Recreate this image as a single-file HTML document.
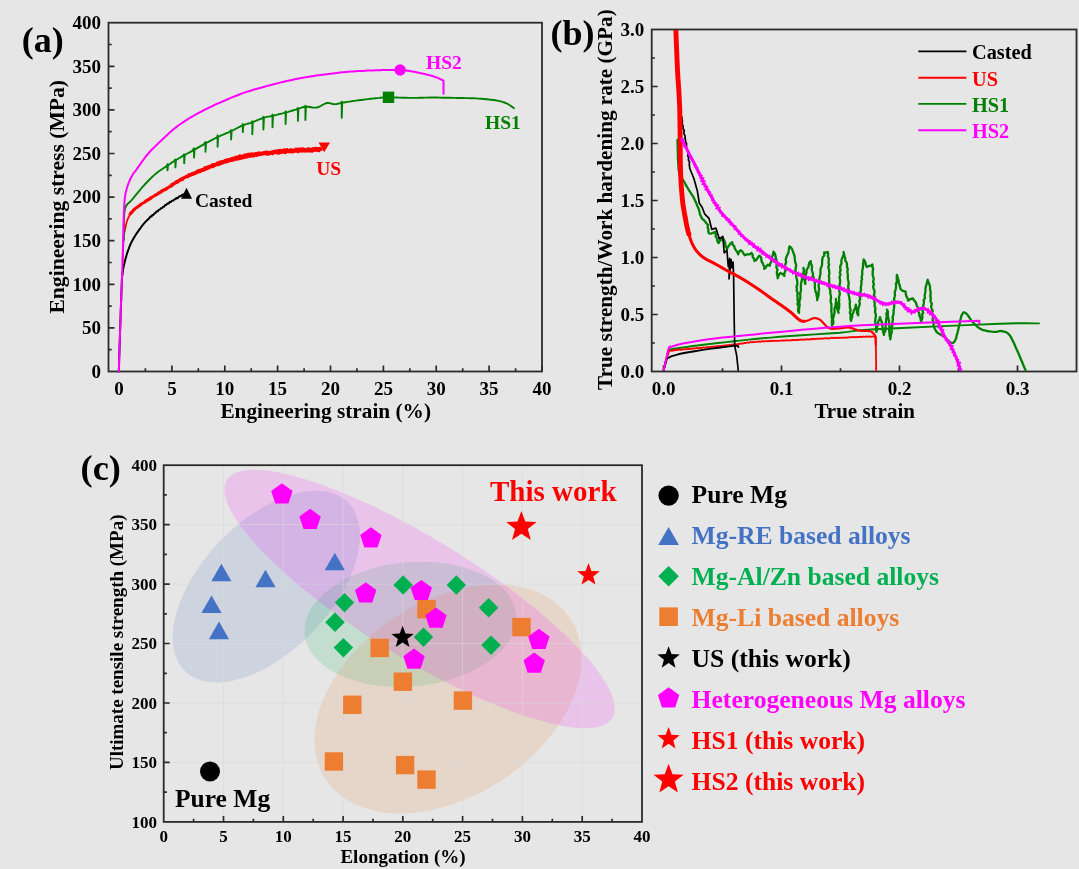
<!DOCTYPE html>
<html><head><meta charset="utf-8"><style>
html,body{margin:0;padding:0;background:#e6e6e6;width:1079px;height:869px;overflow:hidden}
svg{display:block;font-family:"Liberation Serif",serif;will-change:transform}
</style></head><body>
<svg width="1079" height="869" viewBox="0 0 1079 869" font-family="Liberation Serif" font-weight="bold">
<rect width="1079" height="869" fill="#e6e6e6"/>
<rect x="108.5" y="22.7" width="433.5" height="348.8" fill="none" stroke="#2b2b2b" stroke-width="1.8"/>
<path d="M108.5,349.7 h3.2 M108.5,327.9 h6 M108.5,306.1 h3.2 M108.5,284.3 h6 M108.5,262.5 h3.2 M108.5,240.7 h6 M108.5,218.9 h3.2 M108.5,197.1 h6 M108.5,175.3 h3.2 M108.5,153.5 h6 M108.5,131.7 h3.2 M108.5,109.9 h6 M108.5,88.1 h3.2 M108.5,66.3 h6 M108.5,44.5 h3.2 M119,371.5 v-6 M145.4,371.5 v-3.2 M171.9,371.5 v-6 M198.3,371.5 v-3.2 M224.8,371.5 v-6 M251.2,371.5 v-3.2 M277.6,371.5 v-6 M304.1,371.5 v-3.2 M330.5,371.5 v-6 M356.9,371.5 v-3.2 M383.4,371.5 v-6 M409.8,371.5 v-3.2 M436.2,371.5 v-6 M462.7,371.5 v-3.2 M489.1,371.5 v-6 M515.6,371.5 v-3.2 M542,371.5 v-6 " stroke="#2b2b2b" stroke-width="1.7" fill="none"/>
<text x="101" y="377.8" font-size="19" text-anchor="end" fill="#000" >0</text>
<text x="101" y="334.2" font-size="19" text-anchor="end" fill="#000" >50</text>
<text x="101" y="290.6" font-size="19" text-anchor="end" fill="#000" >100</text>
<text x="101" y="247" font-size="19" text-anchor="end" fill="#000" >150</text>
<text x="101" y="203.4" font-size="19" text-anchor="end" fill="#000" >200</text>
<text x="101" y="159.8" font-size="19" text-anchor="end" fill="#000" >250</text>
<text x="101" y="116.2" font-size="19" text-anchor="end" fill="#000" >300</text>
<text x="101" y="72.6" font-size="19" text-anchor="end" fill="#000" >350</text>
<text x="101" y="29" font-size="19" text-anchor="end" fill="#000" >400</text>
<text x="119" y="394.6" font-size="19" text-anchor="middle" fill="#000" >0</text>
<text x="171.9" y="394.6" font-size="19" text-anchor="middle" fill="#000" >5</text>
<text x="224.8" y="394.6" font-size="19" text-anchor="middle" fill="#000" >10</text>
<text x="277.6" y="394.6" font-size="19" text-anchor="middle" fill="#000" >15</text>
<text x="330.5" y="394.6" font-size="19" text-anchor="middle" fill="#000" >20</text>
<text x="383.4" y="394.6" font-size="19" text-anchor="middle" fill="#000" >25</text>
<text x="436.2" y="394.6" font-size="19" text-anchor="middle" fill="#000" >30</text>
<text x="489.1" y="394.6" font-size="19" text-anchor="middle" fill="#000" >35</text>
<text x="542" y="394.6" font-size="19" text-anchor="middle" fill="#000" >40</text>
<text x="325.7" y="417.9" font-size="21.3" text-anchor="middle" fill="#000" >Engineering strain (%)</text>
<text transform="translate(63.5,196.8) rotate(-90)" font-size="21.6" text-anchor="middle">Engineering stress (MPa)</text>
<text x="21.8" y="52" font-size="36" text-anchor="start" fill="#000" >(a)</text>
<g fill="none" stroke-linejoin="round" stroke-linecap="round">
<path d="M118.8,371.5 L118.9,369.8 L118.9,368.1 L119,366.5 L119,364.9 L119.1,363.3 L119.1,361.9 L119.1,360.5 L119.2,359 L119.2,357.6 L119.3,356.1 L119.3,354.6 L119.4,353.1 L119.4,351.6 L119.5,350 L119.5,348.5 L119.6,347 L119.6,345.5 L119.7,344.1 L119.7,342.8 L119.8,341.4 L119.8,340 L119.9,338.3 L119.9,336.6 L120,334.9 L120,333.2 L120.1,331.5 L120.1,329.8 L120.2,328.1 L120.2,326.4 L120.3,324.7 L120.4,323.1 L120.4,321.4 L120.5,319.7 L120.5,318.1 L120.6,316.4 L120.6,314.8 L120.7,313.2 L120.7,311.6 L120.8,310 L120.9,308.4 L120.9,306.7 L121,305.1 L121,303.4 L121.1,301.7 L121.2,300.1 L121.2,298.4 L121.3,296.7 L121.3,295.1 L121.4,293.5 L121.4,292 L121.5,290.4 L121.6,289.1 L121.6,287.7 L121.7,286.3 L121.7,284.7 L121.8,283 L121.8,281.8 L121.9,280.7 L121.9,279.3 L122,278.4 L122,277.7 L122.1,276.9 L122.3,275.6 L122.5,273.8 L122.8,271.9 L123,269.9 L123.4,267.7 L123.6,266.5 L123.9,265.3 L124.2,264 L124.5,262.7 L124.9,261.3 L125.3,259.8 L125.7,258.3 L126.1,256.7 L126.6,255 L127.1,253.3 L127.7,251.7 L128.2,250 L128.9,248.3 L129.5,246.6 L130.2,245 L130.9,243.4 L131.7,241.8 L132.5,240.3 L133.4,238.7 L134.3,237.1 L135.3,235.6 L136.2,234.1 L137.2,232.6 L138.3,231.1 L139.3,229.7 L140.3,228.3 L141.2,227 L142.2,225.7 L143.1,224.6 L144.1,223.4 L145,222.4 L145.9,221.4 L146.8,220.5 L147.8,219.5 L148.7,218.7 L149.6,217.8 L150.3,216.6 L151.7,216.4 L152.3,215 L153.8,214.7 L154.4,213.4 L155.7,212.9 L156.3,211.4 L157.9,211.3 L158.6,209.9 L159.9,209.5 L160.8,208.3 L162.3,208 L163.1,206.8 L164.4,206.5 L165.1,205.1 L166.5,204.8 L167.3,203.6 L168.8,203.5 L169.5,202.1 L171,202 L171.8,200.7 L173.4,200.6 L174.2,199.5 L175.5,199.1 L176.2,198 L177.7,198.2 L179.1,196.5 L180.9,196.1 L182,194.8 L183.5,194.8 L184.4,193.9 L185.4,194 L186,193.5" stroke="#000" stroke-width="2.0"/>
<path d="M122.6,262 L122.7,258.9 L122.9,254.4 L123.1,249.2 L123.3,244 L123.5,239.4 L123.7,236 L123.8,234.2 L123.9,233.4 L124,233.2 L124.1,233.2 L124.2,233 L124.5,232.1 L124.9,230.4 L125.3,228.3 L125.7,226 L126.3,223.6 L126.9,221.3 L127.7,219.2 L128.5,217.4 L129.3,215.8 L130.1,214.3 L131.2,212.8 L132.5,211.3 L134.2,209.6 L136.3,207.8 L138.9,205.9 L141.7,204 L144.6,202 L147.5,200.1 L150.3,198.3 L153,196.6 L155.7,195 L158.4,193.4 L161,191.8 L163.7,190.2 L166.4,188.6 L169,187 L171.4,185.3 L173.8,183.7 L176.4,182 L179.2,180.3 L182.5,178.6 L186.3,176.7 L190.7,174.8 L195.3,172.8 L199.9,170.8 L204.4,169 L208.6,167.3 L212.4,165.8 L215.9,164.5 L219.3,163.2 L222.6,162.1 L225.9,161 L229.3,160 L232.8,159 L236.2,158.2 L239.7,157.4 L243.1,156.6 L246.6,155.9 L250,155.3 L253.4,154.7 L256.9,154.2 L260.3,153.8 L263.8,153.4 L267.2,153 L270.7,152.6 L274.2,152.2 L277.6,151.9 L281.1,151.6 L284.6,151.3 L288,151 L291.5,150.8 L295.1,150.6 L298.8,150.4 L302.6,150.2 L306.2,150.1 L309.4,149.9 L312.2,149.8 L314.5,149.7 L316.3,149.6 L317.9,149.6 L319.2,149.6 L320.2,149.5 L321,149.5" stroke="#ff0000" stroke-width="1.8"/>
<path d="M190.7,174.8 L195.3,172.8 L199.9,170.8 L204.4,169 L208.6,167.3 L212.4,165.8 L215.9,164.5 L219.3,163.2 L222.6,162.1 L225.9,161 L229.3,160 L232.8,159 L236.2,158.2 L239.7,157.4 L243.1,156.6 L246.6,155.9 L250,155.3 L253.4,154.7 L256.9,154.2 L260.3,153.8 L263.8,153.4 L267.2,153 L270.7,152.6 L274.2,152.2 L277.6,151.9 L281.1,151.6 L284.6,151.3 L288,151 L291.5,150.8 L295.1,150.6 L298.8,150.4 L302.6,150.2 L306.2,150.1 L309.4,149.9 L312.2,149.8 L314.5,149.7 L316.3,149.6 L317.9,149.6 L319.2,149.6 L320.2,149.5 L321,149.5" stroke="#ff0000" stroke-width="3.2"/>
<path d="M129.8,214.1 L130.8,214 L130.5,213.1 L131.6,213.1 L131.3,212 L132.4,212.1 L132.4,211.1 L133.3,210.9 L133.3,209.8 L134.4,209.9 L134.4,208.8 L135.4,208.8 L135.6,208 L136.5,208 L136.6,207.1 L137.5,207.3 L137.8,206.5 L138.5,206.5 L138.7,205.7 L139.7,205.9 L139.7,204.8 L140.6,204.9 L140.8,204 L141.8,204.1 L142,203.3 L142.9,203.3 L143.3,202.7 L144.2,202.8 L144.5,201.8 L145.3,201.8 L145.5,200.8 L146.6,201.3 L146.8,200.3 L147.8,200.5 L147.9,199.4 L148.9,199.7 L149,198.8 L150,199.1 L150.1,197.9 L151.1,198.4 L151.1,197.2 L152.1,197.5 L152.3,196.7 L153.1,196.8 L153.5,196 L154.4,196 L154.8,195.1 L155.9,195.3 L156.2,194.4 L157.3,194.6 L157.5,193.5 L158.5,193.7 L158.7,192.5 L159.9,193 L160.2,191.9 L161.3,192.2 L161.4,190.9 L162.5,191.2 L162.7,190 L163.8,190.4 L164.1,189.3 L165.4,190 L165.6,188.8 L166.7,189.1 L166.8,187.8 L168,188.2 L168.2,187.2 L169.1,187.2 L169.4,186.3 L170.6,186.8 L170.6,185.5 L171.8,185.9 L171.6,184.3 L173.1,185.2 L173,183.7 L174.1,184.1 L174.2,182.8 L175.5,183.5 L175.6,182.2 L176.8,182.7 L176.6,181.1 L177.9,182.1 L178,180.8 L179.1,181.4 L179.1,180.1 L180.1,180.4 L180.2,179.1 L181.6,180.1 L181.6,178.5 L182.9,179.4 L182.9,177.7 L184,178.4 L184.2,177.2 L185.2,177.7 L185.5,176.7 L186.5,177.1 L186.6,175.8 L188,177.1 L188,175.5 L188.9,175.9 L189,174.4 L190.3,175.7 L190.4,174.2 L191.5,174.9 L191.7,173.5 L193,174.8 L193,173 L194.2,173.9 L194.5,172.7 L195.7,173.7 L195.8,172.2 L196.9,172.9 L196.9,171 L198.1,172.1 L198.2,170.5 L199.7,172.1 L199.6,170 L201,171.5 L201.1,169.9 L202.1,170.7 L202.3,169.3 L203.6,170.5 L203.6,168.7 L204.7,169.7 L204.7,167.6 L206.2,169.4 L206.1,167 L207.5,168.6 L207.6,166.8 L209,168.3 L208.9,166.3 L210.1,167.4 L210.2,165.9 L211.3,166.8 L211.5,165.4 L212.8,167 L212.6,164.4 L214.1,166.2 L214.2,164.2 L215.4,165.4 L215.7,164 L216.8,164.9 L216.9,162.9 L218.4,164.9 L218.3,162.8 L219.7,164.4 L219.6,161.9 L221,163.8 L220.9,161.5 L222.3,163.4 L222.4,161.3 L223.6,163 L223.7,161 L224.9,162.3 L224.9,160.1 L226.2,162.1 L226.4,160.1 L227.7,162 L227.6,159.3 L228.9,161.2 L229.2,159.6 L230.3,160.8 L230.5,158.9 L231.7,160.6 L231.8,158.3 L233.1,160.4 L233.2,157.7 L234.5,160 L234.6,157.7 L235.8,159.5 L235.9,156.9 L237.2,159.4 L237.4,157 L238.6,159.1 L238.6,156.1 L239.9,158.6 L240,155.6 L241.4,158.6 L241.5,155.8 L242.6,157.9 L243,155.9 L244.1,157.9 L244.2,154.8 L245.4,157.3 L245.6,154.7 L246.8,157.4 L247,154.4 L248.1,156.4 L248.3,154.1 L249.5,156.7 L249.8,153.9 L250.9,156.2 L251.2,153.8 L252.3,156.4 L252.5,153.5 L253.7,156.2 L254.1,154.1 L254.9,155.3 L255.4,153.3 L256.4,155.7 L256.8,153.4 L257.8,155.5 L258.1,152.7 L259,154.5 L259.5,152.7 L260.4,154.6 L261,153.1 L261.8,154.3 L262.3,152.6 L263.2,154.2 L263.7,152.6 L264.5,153.9 L265,152.1 L266,154.1 L266.4,151.7 L267.4,154.3 L267.8,152.1 L268.8,154.5 L269.3,152.2 L270.1,153.7 L270.6,151.7 L271.5,153.6 L272,151.8 L272.9,154 L273.4,151.3 L274.2,152.8 L274.7,150.9 L275.6,152.8 L276.1,150.8 L277,152.9 L277.5,150.6 L278.5,153.6 L278.9,150.2 L279.8,152.8 L280.3,150.1 L281.2,152.9 L281.7,150.5 L282.5,152.2 L283.1,150.1 L284,152.6 L284.4,149.6 L285.4,153 L285.9,149.9 L286.7,152.1 L287.2,149.4 L288.1,151.6 L288.7,150.3 L289.5,152.2 L290,149.6 L290.9,151.6 L291.4,149.5 L292.3,152.4 L292.9,149.7 L293.7,151.7 L294.3,149.8 L295.1,151.5 L295.8,148.8 L296.6,151.5 L297.3,148.7 L298.2,152.1 L298.8,149.1 L299.6,151.2 L300.3,148.5 L301.2,151.4 L301.8,149.2 L302.6,151.1 L303.2,148.4 L304.1,151.3 L304.7,149.2 L305.5,151.2 L306.2,149.4 L306.9,151.3 L307.4,148.9 L308.2,150.9 L308.7,148.4 L309.5,151.5 L310.1,149.3 L310.9,151.1 L311.5,148.9 L312.3,151.5 L312.9,148.2 L313.7,150.6 L314.4,148.8 L315.1,150.4 L315.6,147.9 L316.4,150.5 L317.1,148.3 L317.9,150.7 L318.5,148.2 L319.2,150.9 L320.1,148 L321,149.5" stroke="#ff0000" stroke-width="2.6"/>
<path d="M123.9,240 L123.9,237.5 L123.9,234.1 L123.9,230 L123.9,225.5 L123.9,221 L124.1,216.7 L124.4,212.8 L124.8,209.8 L125.4,207.6 L126.1,205.9 L127,204.6 L127.9,203.6 L128.9,202.7 L130,201.8 L131.1,200.7 L132.3,199.4 L133.5,197.8 L134.9,196.1 L136.3,194.4 L137.8,192.6 L139.3,190.8 L140.8,189 L142.3,187.2 L143.8,185.6 L145.2,184 L146.7,182.5 L148.1,181 L149.6,179.5 L151,178.1 L152.4,176.7 L153.9,175.4 L155.3,174.1 L156.8,172.9 L158.2,171.8 L159.7,170.7 L161.2,169.7 L162.7,168.7 L164.1,167.8 L165.5,166.9 L166.8,166 L167.5,164.2 L167.5,170.2 L168,165.5 L167.9,165.2 L168.9,164.6 L169.8,164 L170.6,163.4 L171.5,162.8 L172.6,162.1 L173.8,161.3 L175.4,159.4 L175.4,167.4 L175.9,160.7 L175.4,160.4 L177.3,159.3 L179.4,158 L181.8,156.7 L184.2,154.3 L184.2,163.3 L184.7,155.6 L184.3,155.3 L186.9,153.8 L189.6,152.3 L192.3,150.8 L194,148.3 L194,157.6 L194.5,149.6 L194.9,149.3 L197.6,147.8 L200.5,146.2 L203.4,144.6 L205.5,142 L205.5,151.8 L206,143.3 L206.3,143 L209.3,141.4 L212.1,139.9 L214.7,138.5 L217.1,137.3 L217.6,135.3 L217.6,146.8 L218.1,136.6 L219.3,136.3 L221.2,135.3 L223.1,134.6 L224.8,133.8 L226.4,133.2 L228,132.6 L229.5,131.9 L231.1,130.2 L231.1,139.5 L231.6,131.5 L231.1,131.2 L232.6,130.5 L234.1,129.7 L235.5,129 L236.9,128.2 L238.2,127.5 L239.6,126.8 L240.9,126.2 L242.2,125.6 L242.8,124.1 L242.8,132.1 L243.3,125.4 L243.5,125.1 L244.8,124.6 L246,124.2 L247.2,123.9 L248.5,123.5 L249.7,123.2 L251,122.8 L252.3,121.3 L252.3,134.3 L252.8,122.6 L252.3,122.3 L253.6,121.8 L255,121.2 L256.4,120.6 L257.9,120 L259.3,119.4 L260.7,118.8 L262.1,118.3 L263.4,116.8 L263.4,129.5 L263.9,118.1 L263.4,117.8 L264.7,117.4 L265.9,117.1 L267.1,116.9 L268.3,116.6 L269.5,116.4 L270.7,116.2 L272,115.9 L272.5,114.6 L272.5,127.3 L273,115.9 L273.4,115.6 L274.9,115.2 L276.5,114.9 L278.2,114.4 L280,114 L281.7,113.6 L283.4,113.2 L285.1,112.7 L285.6,111.3 L285.6,124 L286.1,112.6 L286.7,112.3 L288.2,111.9 L289.7,111.4 L291.2,111 L292.6,110.5 L294,110.1 L295.4,109.7 L296.7,109.3 L297.9,107.9 L297.9,120.9 L298.4,109.2 L297.9,108.9 L299,108.5 L300,108.2 L300.9,107.9 L301.8,107.5 L302.7,107.3 L303.6,107 L304.6,106.8 L305.4,105.7 L305.4,120 L305.9,107 L305.7,106.7 L306.9,106.7 L308.3,106.8 L309.7,107 L311.1,107.2 L312.6,107.5 L314,107.6 L315.4,107.6 L316.8,107.5 L318.1,107.2 L319.4,106.6 L320.7,106 L322,105.2 L323.3,104.5 L324.5,103.8 L325.7,103.3 L326.8,103 L327.9,102.9 L328.9,103 L329.8,103.2 L330.8,103.4 L331.7,103.7 L332.6,104 L333.6,104.1 L334.6,104.2 L335.6,104.1 L336.6,104 L337.5,103.8 L338.5,103.6 L339.6,103.3 L340.7,103 L341.7,101.8 L341.7,117.8 L342.2,103.1 L342.1,102.8 L343.6,102.5 L345.4,102.2 L347.3,101.9 L349.5,101.6 L351.7,101.3 L354,100.9 L356.4,100.6 L358.7,100.3 L361,100 L363.3,99.7 L365.7,99.4 L368.2,99.1 L370.7,98.8 L373.1,98.6 L375.3,98.3 L377.4,98.1 L379.3,97.9 L380.8,97.7 L381.9,97.6 L382.8,97.5 L383.6,97.4 L384.4,97.4 L385.4,97.3 L386.7,97.3 L388.5,97.3 L390.8,97.3 L393.4,97.4 L396.4,97.5 L399.6,97.6 L402.8,97.7 L406,97.8 L409.1,97.9 L412,97.9 L414.7,97.9 L417.3,97.9 L419.8,97.8 L422.3,97.7 L424.8,97.6 L427.3,97.6 L429.8,97.5 L432.3,97.5 L434.8,97.5 L437.4,97.5 L439.9,97.6 L442.5,97.7 L445,97.7 L447.6,97.8 L450.1,97.8 L452.7,97.9 L455.2,97.9 L457.8,98 L460.3,98 L462.9,98 L465.4,98.1 L468,98.1 L470.5,98.2 L473.1,98.3 L475.7,98.4 L478.4,98.6 L481.1,98.8 L483.8,99 L486.5,99.2 L489,99.5 L491.3,99.7 L493.5,100 L495.4,100.3 L497.2,100.6 L498.9,100.9 L500.4,101.3 L501.8,101.7 L503.1,102.1 L504.4,102.5 L505.7,103 L507,103.6 L508.2,104.2 L509.4,105 L510.6,105.7 L511.6,106.5 L512.5,107.1 L513.3,107.7 L513.9,108.1" stroke="#008000" stroke-width="1.9"/>
<path d="M118.8,371.5 L118.9,369.1 L119,365.8 L119.1,361.9 L119.2,357.6 L119.4,353.1 L119.5,348.5 L119.7,344.1 L119.8,340 L119.9,336.2 L120,332.3 L120.2,328.5 L120.3,324.7 L120.4,321 L120.5,317.3 L120.7,313.6 L120.8,310 L120.9,306.6 L121,303.3 L121.2,300.1 L121.3,297 L121.4,293.8 L121.5,290.5 L121.7,286.9 L121.8,283 L121.9,278.7 L122.1,274 L122.3,269 L122.4,263.9 L122.6,258.8 L122.7,253.8 L122.9,249.2 L123,245 L123.1,241.2 L123.2,237.8 L123.2,234.5 L123.3,231.5 L123.4,228.6 L123.4,225.7 L123.5,222.9 L123.6,220 L123.7,217.1 L123.8,214.1 L123.9,211.2 L124.1,208.4 L124.2,205.6 L124.4,203 L124.6,200.6 L124.8,198.3 L125.1,196.3 L125.4,194.4 L125.7,192.8 L126,191.2 L126.4,189.8 L126.8,188.4 L127.2,187 L127.7,185.6 L128.2,184.2 L128.7,182.8 L129.3,181.4 L129.9,180 L130.5,178.7 L131.1,177.5 L131.7,176.4 L132.3,175.3 L132.8,174.4 L133.2,173.7 L133.6,173.2 L134,172.7 L134.5,172.1 L135,171.5 L135.7,170.6 L136.5,169.5 L137.5,168.1 L138.7,166.4 L140,164.6 L141.3,162.6 L142.8,160.6 L144.2,158.6 L145.6,156.7 L147,155 L148.3,153.5 L149.5,152.1 L150.7,150.8 L151.9,149.5 L153.2,148.3 L154.6,146.9 L156.1,145.4 L157.8,143.8 L159.7,141.9 L161.9,139.9 L164.2,137.7 L166.6,135.5 L169,133.3 L171.5,131.1 L173.9,129 L176.3,127.1 L178.6,125.3 L180.9,123.7 L183.3,122.1 L185.6,120.6 L187.9,119.1 L190.3,117.7 L192.6,116.4 L194.9,115 L197.3,113.6 L199.8,112.3 L202.4,111 L204.9,109.7 L207.3,108.5 L209.6,107.4 L211.7,106.4 L213.4,105.5 L214.7,104.9 L215.5,104.5 L216.1,104.2 L216.5,104 L216.9,103.9 L217.5,103.6 L218.5,103.2 L220,102.6 L222,101.7 L224.5,100.7 L227.2,99.5 L230.1,98.2 L233.2,96.9 L236.3,95.7 L239.3,94.5 L242.2,93.4 L245,92.4 L247.8,91.5 L250.6,90.7 L253.3,89.8 L256.1,89 L258.9,88.2 L261.7,87.5 L264.5,86.7 L267.3,85.9 L270.1,85.2 L272.8,84.5 L275.6,83.8 L278.4,83.1 L281.1,82.4 L283.9,81.7 L286.7,81.1 L289.4,80.5 L292.1,79.9 L294.7,79.3 L297.3,78.8 L300,78.3 L302.8,77.8 L305.8,77.2 L309,76.7 L312.5,76.2 L316.4,75.6 L320.5,75 L324.6,74.5 L328.8,73.9 L332.8,73.4 L336.6,73 L340,72.6 L343,72.3 L345.8,72 L348.3,71.8 L350.7,71.6 L353,71.4 L355.3,71.3 L357.6,71.1 L360,71 L362.6,70.9 L365.2,70.7 L367.9,70.6 L370.5,70.5 L373.1,70.4 L375.6,70.3 L377.9,70.3 L380,70.2 L381.9,70.1 L383.5,70.1 L385.1,70 L386.5,70 L387.8,70 L389,69.9 L390.3,69.9 L391.5,69.9 L392.7,69.9 L393.8,69.9 L394.8,69.9 L395.8,69.8 L396.8,69.8 L397.8,69.9 L398.9,69.9 L400.1,70 L401.4,70.1 L402.6,70.2 L403.9,70.3 L405.3,70.4 L406.7,70.6 L408.3,70.8 L410,71.1 L411.9,71.4 L414.1,71.8 L416.6,72.3 L419.3,72.9 L422.1,73.5 L424.9,74.1 L427.6,74.8 L430.1,75.4 L432.3,76 L434.2,76.6 L436,77.3 L437.7,77.9 L439.2,78.6 L440.5,79.2 L441.7,79.8 L442.7,80.2 L443.5,80.6 L443.5,93.8" stroke="#ff00ff" stroke-width="2.0"/>
</g>
<path d="M186.5,187.8 L192,198.8 L181,198.8 Z" fill="#000"/>
<path d="M318.5,142.6 L330,142.6 L324.2,152.3 Z" fill="#ff0000"/>
<rect x="382.8" y="91.6" width="11.4" height="11.4" fill="#008000"/>
<circle cx="400.1" cy="70" r="5.7" fill="#ff00ff"/>
<text x="195" y="206.8" font-size="19.5" text-anchor="start" fill="#000" >Casted</text>
<text x="316.2" y="175.4" font-size="19.5" text-anchor="start" fill="#ff0000" >US</text>
<text x="485" y="128.5" font-size="19.5" text-anchor="start" fill="#008000" >HS1</text>
<text x="426" y="68.8" font-size="19.5" text-anchor="start" fill="#ff00ff" >HS2</text>
<rect x="651.7" y="29.5" width="424.8" height="342" fill="none" stroke="#2b2b2b" stroke-width="1.8"/>
<path d="M651.7,343 h3.2 M651.7,314.5 h6 M651.7,286 h3.2 M651.7,257.5 h6 M651.7,229 h3.2 M651.7,200.5 h6 M651.7,172 h3.2 M651.7,143.5 h6 M651.7,115 h3.2 M651.7,86.5 h6 M651.7,58 h3.2 M663.5,371.5 v-6 M722.5,371.5 v-3.2 M781.5,371.5 v-6 M840.5,371.5 v-3.2 M899.5,371.5 v-6 M958.5,371.5 v-3.2 M1017.5,371.5 v-6 " stroke="#2b2b2b" stroke-width="1.7" fill="none"/>
<text x="644.3" y="377.8" font-size="19" text-anchor="end" fill="#000" >0.0</text>
<text x="644.3" y="320.8" font-size="19" text-anchor="end" fill="#000" >0.5</text>
<text x="644.3" y="263.8" font-size="19" text-anchor="end" fill="#000" >1.0</text>
<text x="644.3" y="206.8" font-size="19" text-anchor="end" fill="#000" >1.5</text>
<text x="644.3" y="149.8" font-size="19" text-anchor="end" fill="#000" >2.0</text>
<text x="644.3" y="92.8" font-size="19" text-anchor="end" fill="#000" >2.5</text>
<text x="644.3" y="35.8" font-size="19" text-anchor="end" fill="#000" >3.0</text>
<text x="663.5" y="394.6" font-size="19" text-anchor="middle" fill="#000" >0.0</text>
<text x="781.5" y="394.6" font-size="19" text-anchor="middle" fill="#000" >0.1</text>
<text x="899.5" y="394.6" font-size="19" text-anchor="middle" fill="#000" >0.2</text>
<text x="1017.5" y="394.6" font-size="19" text-anchor="middle" fill="#000" >0.3</text>
<text x="864.7" y="418.4" font-size="21" text-anchor="middle" fill="#000" >True strain</text>
<text transform="translate(611.6,199.6) rotate(-90)" font-size="21.2" text-anchor="middle">True strength/Work hardening rate (GPa)</text>
<text x="550.5" y="45" font-size="36" text-anchor="start" fill="#000" >(b)</text>
<path d="M918.3,51.4 H966.4" stroke="#000" stroke-width="1.9"/>
<text x="972" y="59.2" font-size="20.3" text-anchor="start" fill="#000" >Casted</text>
<path d="M918.3,77.7 H966.4" stroke="#ff0000" stroke-width="1.9"/>
<text x="972" y="85.5" font-size="20.3" text-anchor="start" fill="#ff0000" >US</text>
<path d="M918.3,103.9 H966.4" stroke="#008000" stroke-width="1.9"/>
<text x="972" y="111.7" font-size="20.3" text-anchor="start" fill="#008000" >HS1</text>
<path d="M918.3,130.3 H966.4" stroke="#ff00ff" stroke-width="1.9"/>
<text x="972" y="138.1" font-size="20.3" text-anchor="start" fill="#ff00ff" >HS2</text>
<defs><clipPath id="clipb"><rect x="652.5" y="30.3" width="423.2" height="340.4"/></clipPath></defs>
<g fill="none" stroke-linejoin="round" stroke-linecap="round" clip-path="url(#clipb)">
<path d="M677.5,140 L677.5,142 L677.5,143.9 L677.7,145.9 L677.7,148 L677.7,150.2 L677.9,152.3 L677.8,154.5 L677.9,156.7 L677.9,158.9 L678.2,161.1 L678.2,163.3 L678.4,165.6 L678.5,167.8 L678.7,170.1 L679.2,172.1 L679.5,174.2 L680.7,176.8 L682,178.5 L682.8,179.7 L684,181.6 L685.1,183.5 L686.1,185.5 L687.3,187.3 L688.4,189.3 L689.4,190.9 L690.6,192.6 L691.6,194.3 L692.7,195.9 L693.7,197.6 L694.6,199.5 L695.5,201.5 L696.3,203.4 L697.1,205.4 L698,207.3 L698.9,209.5 L699.5,211.7 L699.9,214.1 L700.9,216.2 L701.9,218.5 L703.6,219.9 L705.1,221.5 L706.4,223.3 L708.1,225.1 L707.6,227.3 L708.4,229.3 L708.2,231.5 L709,233.4 L711,233.6 L712.8,233 L715.1,231.9 L715.7,234.2 L715.7,236.7 L717.1,238.7 L717.3,241.2 L718.6,243.1 L719.7,241 L721.6,239.6 L722.5,237.7 L723.9,239.7 L724.9,241.9 L725.4,244.2 L725.6,246.7 L727.1,248.9 L727.8,246.9 L729.1,245.4 L730.2,243.8 L732.3,242.3 L732.5,244.6 L734.2,246.2 L734.8,248.4 L736,250.3 L737.3,252.1 L738.2,254.4 L739,251.9 L740.6,250.2 L742.5,251.7 L743.6,253.7 L744.8,255.3 L747.1,254.4 L749.7,254.3 L751.5,252.9 L752.7,254.8 L752.7,257.1 L754.2,258.9 L754.4,261 L756.2,260 L757.4,258.5 L758.4,256.6 L759.5,255.8 L761,257.3 L761.4,259.2 L761.4,261.2 L762.6,263 L763.4,265 L764.4,266.9 L764.2,268.8 L765.8,267.6 L766.7,265.8 L768,264.6 L769.7,265.7 L770.3,263.4 L771.5,261.2 L771.5,258.8 L772.2,256.5 L773.1,254.3 L773.5,251.7 L775,254 L775.6,256.5 L775.9,258.7 L776.7,260.8 L777,263 L776.5,265.2 L776.4,267.4 L777.5,269.6 L776.8,271.8 L777,274 L777.5,276.1 L777.7,278.3 L778.3,276.2 L779.2,274.2 L780.3,273 L782.7,274.1 L784.4,276 L784.2,273.7 L785.2,271.4 L785.2,269.1 L785.1,266.8 L785.3,264.5 L786.2,262.2 L785.7,259.8 L786.2,257.5 L787.2,255.3 L788.3,253.1 L788.7,250.7 L789,248.3 L789.5,246.3 L791.1,247.7 L792.2,249.3 L792.8,251.1 L793.5,253 L794.4,255.2 L794.7,257.5 L794.9,259.9 L795.2,262.2 L796.1,264.5 L796,266.7 L795.5,268.9 L795.5,271.1 L796,273.3 L796.1,275.5 L796.4,277.7 L797,279.9 L797.3,282.1 L797.4,284.3 L796.5,286.5 L796.9,288.7 L796.7,290.9 L797.9,293.1 L797.3,295.3 L797.6,297.5 L797.5,299.7 L798.1,301.9 L797.4,304.1 L798.6,306.3 L798.2,308.5 L798.1,310.7 L799,312.9 L799,310.8 L799.1,308.7 L799.4,306.5 L799.7,304.4 L799.2,302.2 L799.8,300.1 L800.3,298 L800.4,295.9 L800.1,293.7 L800.7,291.6 L801,289.5 L800.8,287.3 L801,285.2 L801.1,283 L801.7,280.9 L802.1,278.8 L801.8,276.5 L802.8,274.5 L803.6,272.4 L803.8,270.2 L803.4,268 L804,270.3 L803.8,272.6 L804.2,274.9 L804.5,277.1 L804.2,279.5 L805.3,281.7 L805.3,284 L804.7,281.7 L805.6,279.4 L805.7,277.1 L805.7,274.8 L806.5,272.6 L806.5,270.3 L807.4,268.5 L808.6,266.8 L808.7,264.7 L809.2,262.7 L810.8,261.1 L810.8,263.2 L811.7,265.2 L812.1,267.3 L811.7,269.6 L812.3,271.6 L813,273.7 L812.8,276 L813.9,278.1 L813.9,280.4 L814.8,282.5 L814.9,284.7 L814.8,287 L815.1,289.2 L815.5,291.4 L816.5,293.6 L816.6,295.8 L817.3,298 L817.1,300.2 L817.7,298 L818.4,295.8 L818.6,293.6 L818.7,291.3 L819.2,289.1 L818.6,286.8 L818.7,284.6 L819.3,282.4 L819.3,280.1 L819.5,277.9 L820,275.7 L820.5,273.5 L820.5,271.3 L820.5,269 L821.4,266.9 L822.1,264.6 L822.1,262.2 L822.2,259.8 L822.7,257.5 L824.3,255.4 L824.2,252.5 L826.2,252.7 L827.8,251.9 L828.2,254.1 L827.8,256.3 L828.8,258.4 L828.7,260.6 L828.5,262.9 L829.1,265 L828.2,267.3 L829,269.4 L829.2,271.6 L829.4,273.8 L828.8,276 L829.2,278.1 L829.1,280.3 L829.3,282.5 L829.2,284.6 L829.2,286.8 L829.7,288.9 L830.4,291 L830.2,293.2 L830.8,295.3 L831.1,297.5 L830.7,299.7 L830.6,301.8 L831.4,304 L831.4,306.1 L831.5,308.3 L831.2,310.5 L831.6,312.6 L831.6,314.7 L831.6,316.9 L832.2,319 L831.8,321.2 L831.9,323.4 L832,325.4 L833.3,323.4 L833.3,321.1 L832.9,318.8 L833.6,316.7 L834.1,314.5 L834.7,312.3 L834.3,310 L834.8,307.8 L835.5,305.7 L835.7,303.5 L836.1,301.3 L835.9,299 L836.1,301.3 L837,303.6 L836.8,306 L837.1,308.3 L837.7,310.6 L838.6,312.9 L838.1,310.6 L839,308.4 L839.2,306.2 L839.3,303.9 L838.9,301.7 L839.3,299.4 L838.9,297.2 L839.7,294.9 L839.7,292.7 L839.2,290.4 L839,288.2 L839.5,285.9 L839.8,283.7 L840.2,281.4 L839.9,279.2 L839.5,276.9 L840.5,274.7 L839.7,272.4 L840.7,270.2 L840.1,267.9 L840.4,265.7 L841.5,263.5 L841.3,261 L841.9,258.7 L842.9,256.5 L843.7,254.3 L843.6,252 L844.2,254.1 L844.4,256.3 L845.3,258.3 L845.2,260.6 L846.7,262.6 L847,264.7 L847,267 L847.8,269.1 L847.4,271.3 L847.6,273.4 L847.9,275.6 L847.7,277.8 L848.1,279.9 L848.6,282 L848.6,284.2 L848.2,286.4 L848.3,288.6 L849.3,290.7 L848.6,292.9 L848.6,295 L849.3,297.2 L849.4,299.3 L850,301.5 L849.7,303.6 L849.9,305.8 L849.9,308 L850.8,310.1 L849.8,312.3 L850.5,314.4 L850.7,316.6 L850.4,318.8 L851,320.9 L851.5,318.9 L852.3,316.9 L852.1,314.7 L853.2,312.9 L853.7,310.8 L854.9,309 L855.4,307 L855.8,304.7 L856,306.9 L856.9,308.9 L857,311 L857,313.2 L858.3,315.3 L858.1,312.9 L858.2,310.5 L858.4,308.2 L859.2,306 L859.9,303.7 L859.2,301.3 L860.3,299 L859.6,296.7 L860,294.6 L860.3,292.4 L861,290.2 L860.8,288 L861.1,285.8 L861.6,283.6 L861.2,281.3 L862.1,279.2 L861.6,276.9 L862.3,274.7 L862.2,272.5 L862.3,270.3 L862.9,268.1 L863,265.9 L863.1,263.7 L863.4,261.5 L863.7,259.3 L864.8,261 L865.5,262.9 L865.8,264.9 L866.8,266.9 L868.7,266 L870.8,265.6 L872.5,264.5 L872.3,266.7 L873.2,268.8 L872.7,271 L872.7,273.2 L872.7,275.4 L873.5,277.5 L873.7,279.7 L873,281.9 L874,284 L873.2,286.3 L873.4,288.4 L874.5,290.6 L874.5,292.7 L874,295 L874.7,297.1 L875,299.3 L874.2,301.5 L874.8,303.6 L874.5,305.8 L875.4,308 L875.2,310.2 L875,312.3 L875.9,314.5 L875.8,316.7 L875.4,318.9 L875.2,321.1 L875.3,323.2 L876.4,325.4 L876.1,327.6 L875.9,329.7 L876.3,331.9 L877,329.8 L877,327.6 L877.4,325.4 L878,323.3 L878.4,321.2 L879.5,319.2 L880,317.1 L880.5,319.3 L881.5,321.4 L882.1,323.7 L882.6,325.9 L882.4,328.3 L882.8,330.6 L883.4,332.8 L884,334.8 L884.2,332.7 L885.5,330.8 L885.2,328.6 L885.8,326.5 L885.5,324.4 L885.9,322.3 L886.2,320.2 L886.3,318.1 L886.8,316 L886.3,313.8 L887.4,311.8 L887,309.7 L888,311.8 L887.9,313.9 L887.8,316.1 L888.4,318.1 L888.8,320.2 L889.1,322.3 L888.9,324.5 L889.7,326.6 L888.9,328.8 L889.2,330.9 L889.5,333 L889.5,335.1 L890,337.2 L890.3,339.3 L890.7,337.1 L890.9,334.9 L891.7,332.7 L891.7,330.4 L891.3,328.1 L892.3,326 L892.3,323.8 L892.6,321.5 L892.9,319.3 L892.6,317 L893.4,314.9 L893.6,312.7 L893.6,310.4 L894,308.2 L894.2,306 L894,303.7 L894.6,301.5 L894,299.2 L894.6,297 L895,294.8 L894.7,292.5 L895.3,290.4 L895.9,288.2 L896.1,285.9 L895.9,283.7 L896.9,281.5 L896.8,279.3 L896.7,277 L896.9,274.8 L897.5,276.8 L898.1,278.8 L898.8,280.8 L898.6,283 L899.6,284.9 L900,286.9 L900.6,289.2 L902.7,290.9 L905.7,291.7 L905.8,294.2 L906.4,296.4 L907.7,298.5 L908.1,300.7 L910.2,299.2 L913,298.4 L913.9,300.2 L915.3,301.6 L916.2,303.4 L916.6,305.3 L917.6,307.3 L918.2,309.3 L918.2,311.5 L919.3,313.4 L919.3,315.6 L920.3,317.5 L920.7,319.6 L921.1,321.5 L922,319.4 L922.5,317.1 L921.9,314.8 L923.2,312.8 L922.5,310.7 L923.1,308.7 L923,306.6 L923.6,304.6 L924,302.4 L923.6,300.1 L925,298.1 L924.6,295.8 L925,293.6 L925.4,291.4 L925.5,289 L925.7,286.8 L926.5,284.6 L927,282.3 L927.7,279.8 L928.2,281.3 L929.2,283.9 L930,286.5 L930,289.1 L930.6,291.5 L930.7,294.1 L930.2,296.1 L930.9,298 L930.5,300 L930.8,302 L931.9,303.9 L931.1,306.2 L931.4,308.3 L932.7,310.6 L932,313.1 L932.8,315.4 L932.9,317.7 L932.6,319.9 L933.6,322 L933.6,323.9 L933.4,326 L934.2,327.5 L934.9,329 L936.2,331.4 L937.9,333.1 L939.8,334.2 L941.9,335.2 L943.8,336.4 L945.8,338.2 L948,340.4 L950.2,342.3 L952.3,343.2 L954.1,342.3 L955,340.5 L956,338.7 L956.4,336.7 L956.9,334.7 L957.5,332.8 L958,330.6 L958.6,328.3 L959,326.1 L959.6,324 L960,322 L960.4,319.9 L960.9,317.7 L961.5,315.6 L962.7,313.5 L963.4,312.4 L964.1,312.3 L965,312.7 L966,313.4 L967.3,314.6 L968.7,316.5 L970.2,318.8 L971.8,321.1 L973.5,323 L975.2,324.6 L976.8,326.1 L978.4,327.6 L980.3,328.8 L982.3,329.8 L984.6,330.4 L987,331 L989.6,331.4 L992,331.7 L994.2,331.9 L996,331.8 L997.6,331.6 L999.1,331.2 L1000.5,331 L1002,331.2 L1003.5,331.5 L1005,331.9 L1006.5,332.4 L1007.9,333.4 L1009.4,334.9 L1010.9,337 L1012.2,339.7 L1012.9,341.2 L1013.8,342.7 L1014.5,344.4 L1015.1,346.1 L1016,347.9 L1016.8,349.7 L1017.8,351.8 L1018.7,354 L1019.8,356.4 L1020.8,359 L1021.9,361.5 L1022.9,364 L1023.8,366.3 L1024.8,368.4 L1025.4,370 L1026.1,371.5" stroke="#008000" stroke-width="2.3"/>
<path d="M663.3,371.5 L663.8,369.4 L664.5,366.4 L665.2,363 L666,360 L666.7,357.2 L667.4,354.3 L668.2,351.8 L668.9,350 L669,349.2 L668.8,349.1 L669.4,349.2 L672,349 L677.4,348.2 L684.8,347.2 L693.1,346 L701.3,345 L709.5,344 L718.1,343 L726.4,342.1 L733.8,341.3 L739.6,340.6 L744.2,340.1 L749,339.6 L755,339 L762.4,338.3 L770.7,337.6 L779.9,336.8 L790,336 L801.8,335.2 L815,334.4 L828.2,333.5 L840,332.7 L847.7,331.9 L852.8,331.1 L860.3,330.3 L875,329.3 L901.9,328 L937.2,326.4 L972.7,324.9 L1000,323.8 L1016.7,323.3 L1027.3,323.3 L1034,323.4 L1039,323.4" stroke="#008000" stroke-width="1.9"/>
<path d="M663.1,371.5 L664.1,369.7 L663.8,368.1 L664.8,366.9 L664.7,365.2 L665.4,363.8 L665.5,362.3 L666.2,361 L666,359.6 L666.9,358.5 L666.8,357.1 L667.6,356 L667.6,354.7 L668.4,353.8 L668.6,351.9 L669.3,350.9 L668.8,350.7 L669.4,351 L670.7,350.5 L672,350.9 L673.3,350 L674.7,350.6 L676,349.7 L677.4,350.2 L678.9,349.4 L680.4,350 L681.8,349.3 L683.4,349.7 L684.8,349 L686.2,349.5 L687.6,348.7 L689,349.1 L690.3,348.6 L691.8,348.9 L693.1,348.3 L694.8,348.5 L696.4,347.9 L698.1,348.4 L699.6,347.6 L701.3,348.1 L702.9,347.4 L704.6,347.8 L706.2,347.2 L707.9,347.5 L709.4,346.8 L710.9,347.1 L712.3,346.6 L713.8,346.9 L715.2,346.3 L716.6,346.6 L718,345.9 L719.5,346.3 L720.8,345.8 L722.3,346.1 L723.6,345.5 L725,345.7 L726.4,345.2 L727.9,345.4 L729.3,344.9 L730.9,345.2 L732.3,344.4 L733.8,344.8 L735.2,344.1 L736.7,344.6 L738.1,343.9 L739.6,344 L741.1,343.3 L742.7,343.7 L744.2,342.8 L745.9,343 L747.4,342.4 L749,342.8 L750.5,341.9 L752,342.4 L753.5,341.8 L755,342.2 L756.5,341.5 L758.1,341.9 L759.6,341.4 L761.1,341.8 L762.6,341 L764.1,341.6 L765.5,341 L766.9,341.4 L768.4,340.8 L769.8,341.3 L771.2,340.7 L772.8,341.2 L774.3,340.6 L775.9,341 L777.4,340.6 L778.9,341 L780.5,340.5 L782.1,340.7 L783.6,340.3 L785.3,340.7 L786.8,340.1 L788.4,340.5 L790,340.1 L791.4,340.4 L792.8,339.8 L794.2,340.1 L795.6,339.8 L797,340.2 L798.4,339.6 L799.8,339.9 L801.3,339.4 L802.8,339.8 L804.2,339.3 L805.7,339.6 L807.2,339.1 L808.7,339.6 L810.1,339 L811.6,339.3 L813.1,338.7 L814.7,339.3 L816.2,338.6 L817.7,339 L819.2,338.4 L820.7,338.8 L822.2,338.4 L823.8,338.7 L825.3,338 L826.8,338.6 L828.3,338.1 L829.9,338.5 L831.4,337.7 L832.9,338.2 L834.4,337.7 L835.9,338.1 L837.3,337.7 L838.8,338 L840.3,337.6 L841.8,337.9 L843.3,337.5 L844.7,337.8 L846.1,337.4 L847.6,337.8 L849,337.1 L850.4,337.5 L851.8,336.9 L853.3,337.4 L854.7,336.9 L856.1,337.4 L857.5,336.9 L859,337.2 L860.4,336.7 L861.8,337.1 L863.3,336.5 L864.7,337 L866.1,336.4 L867.6,336.9 L869.2,336.4 L870.8,336.8 L872.4,336.4 L874,336.6 L875.6,336.4 L875.6,336.4 L875.9,350 L876.2,371.5" stroke="#ff0000" stroke-width="1.8"/>
<path d="M663.3,371.5 L663.8,369.7 L664.5,367 L665.3,364.2 L666,362 L666.4,360.6 L666.5,359.6 L666.9,358.8 L668,358 L669.7,357.1 L671.8,356.2 L674.6,355.3 L678.2,354.3 L682.8,353.3 L688.4,352.2 L694.6,351.2 L701.3,350.1 L709.4,348.9 L718.7,347.7 L727.4,346.6 L733.8,345.9 L737,345.8 L738.1,346.1 L738.2,346.6 L738.4,346.9" stroke="#000" stroke-width="1.9"/>
<path d="M678.7,97.5 L678.6,99.2 L678.7,100.9 L679.6,102.4 L679.4,104.3 L679.8,106 L680.1,107.8 L680.9,109.5 L681.3,111.5 L681.2,113.5 L681.1,115.5 L681.9,117.4 L682,119.2 L682.4,120.9 L682.2,122.8 L682.4,124.6 L683.2,126.5 L683,128.6 L684.3,130.4 L683.9,132.4 L684.2,134.3 L685.2,136.1 L685,138.1 L685.5,139.9 L685.5,141.8 L686.5,143.5 L686.5,145.4 L686.5,147.4 L687.1,149.4 L687.8,151.4 L688.3,153.5 L687.8,155.8 L688.6,157.9 L688.4,160.1 L689.6,162 L689.2,164 L689.5,166 L689.7,168 L690.4,170 L693.8,178.3 L697.3,190.7 L699.3,203.1 L702.1,207.3 L704.8,214.2 L709,218.3 L711.8,229.4 L715.9,228 L719.3,239 L722.8,236.3 L724.2,252.8 L726.9,250.1 L728.3,266.6 L729.7,258.3 L729,279 L731.1,259.7 L732,268 L733.1,262 L733.6,276 L734.2,320 L734.7,346 L736.6,355.2 L738.4,371.5" stroke="#000" stroke-width="1.7"/>
<path d="M675.8,28 L676,33.8 L676.3,42 L676.7,51.5 L677.1,61.2 L677.5,70 L677.9,77.5 L678.4,84.3 L678.9,91.2 L679.3,98.8 L679.7,107.9 L679.9,119.3 L680.1,132.7 L680.2,146.5 L680.3,159.4 L680.5,170 L680.8,177.8 L681.1,183.9 L681.5,188.8 L681.8,193 L682.2,197 L682.5,200.6 L682.8,203.4 L683.2,205.8 L683.6,208.3 L684.1,211.4 L684.8,215.2 L685.6,219.5 L686.4,223.9 L687.3,228.2 L688.3,232.1 L689.3,235.5 L690.3,238.7 L691.3,241.6 L692.5,244.3 L693.8,246.8 L695.2,249.1 L696.7,251.2 L698.4,253.1 L700.1,254.8 L702.1,256.5 L704.3,258.1 L706.7,259.5 L709.2,260.8 L711.9,262.1 L714.5,263.5 L717.2,265 L719.9,266.5 L722.7,268.1 L725.5,269.7 L728.3,271.2 L731,272.7 L733.8,274.1 L736.5,275.6 L739.3,277.1 L742.1,278.8 L745.1,280.6 L748.2,282.6 L751.3,284.6 L754.4,286.6 L757.3,288.5 L760,290.3 L762.5,292.1 L765,293.9 L767.5,295.7 L770,297.5 L772.7,299.4 L775.5,301.3 L778.2,303.2 L780.9,305 L783.2,306.7 L785.2,308.1 L786.9,309.3 L788.4,310.5 L789.9,311.6 L791.5,312.9 L793.2,314.4 L794.9,316.1 L796.6,317.7 L798.3,319.1 L799.8,320.2 L801.1,320.8 L802.3,321.2 L803.5,321.3 L804.7,321.2 L806,321 L807.6,320.6 L809.3,319.9 L811,319.1 L812.7,318.4 L814.3,318.1 L815.6,318.1 L816.8,318.3 L818,318.7 L819.2,319.3 L820.5,320.2 L822,321.5 L823.6,323.3 L825.2,325.1 L827,326.8 L828.8,328 L830.7,328.6 L832.8,328.8 L834.9,328.7 L837,328.5 L839.1,328.4 L841.1,328.2 L843,327.9 L845,327.6 L846.9,327.5 L848.9,327.5 L850.9,327.9 L853,328.5 L855.1,329.3 L857.2,330 L859.3,330.5 L861.5,330.8 L863.8,330.9 L866,330.9 L868,331 L869.7,331.2 L870.9,331.5 L871.7,331.9 L872.4,332.4 L872.9,332.9 L873.4,333.5 L873.9,334.1 L874.4,334.6 L874.8,335.2 L875.1,336 L875.4,337 L875.6,338.4 L875.7,340.3 L875.7,342.2 L875.8,343.8 L875.8,345" stroke="#ff0000" stroke-width="2.2"/>
<path d="M675.8,28 L676,33.8 L676.3,42 L676.7,51.5 L677.1,61.2 L677.5,70 L677.9,77.5 L678.4,84.3 L678.9,91.2 L679.3,98.8 L679.7,107.9 L679.9,119.3 L680.1,132.7 L680.2,146.5 L680.3,159.4 L680.5,170 L680.8,177.8 L681.1,183.9 L681.5,188.8 L681.8,193 L682.2,197 L682.5,200.6 L682.8,203.4 L683.2,205.8 L683.6,208.3 L684.1,211.4 L684.8,215.2 L685.6,219.5 L686.4,223.9 L687.3,228.2 L688.3,232.1 L689.3,235.5 L690.3,238.7 L691.3,241.6 L692.5,244.3 L693.8,246.8 L695.2,249.1 L696.7,251.2 L698.4,253.1 L700.1,254.8 L702.1,256.5 L704.3,258.1 L706.7,259.5 L709.2,260.8 L711.9,262.1 L714.5,263.5 L717.2,265 L719.9,266.5 L722.7,268.1 L725.5,269.7 L728.3,271.2 L731,272.7 L733.8,274.1 L736.5,275.6 L739.3,277.1 L742.1,278.8 L745.1,280.6 L748.2,282.6 L751.3,284.6 L754.4,286.6 L757.3,288.5 L760,290.3 L762.5,292.1 L765,293.9 L767.5,295.7 L770,297.5 L772.7,299.4 L775.5,301.3 L778.2,303.2 L780.9,305 L783.2,306.7 L785.2,308.1 L786.9,309.3 L788.4,310.5 L789.9,311.6 L791.5,312.9 L793.2,314.4 L794.9,316.1 L796.6,317.7 L798.3,319.1 L799.8,320.2 L801.1,320.8 L802.3,321.2 L803.5,321.3 L804.7,321.2" stroke="#ff0000" stroke-width="3.0"/>
<path d="M675.8,28 L676,33.8 L676.3,42 L676.7,51.5 L677.1,61.2 L677.5,70 L677.9,77.5 L678.4,84.3 L678.9,91.2 L679.3,98.8 L679.7,107.9 L679.9,119.3 L680.1,132.7 L680.2,146.5 L680.3,159.4 L680.5,170 L680.8,177.8 L681.1,183.9 L681.5,188.8 L681.8,193 L682.2,197 L682.5,200.6 L682.8,203.4 L683.2,205.8 L683.6,208.3 L684.1,211.4 L684.8,215.2 L685.6,219.5 L686.4,223.9 L687.3,228.2 L688.3,232.1 L689.3,235.5" stroke="#ff0000" stroke-width="4.9" stroke-linecap="butt"/>
<path d="M681.8,139 L682.6,140.7 L683.7,143 L685.2,146 L686.9,149.4 L689,153.4 L691.4,158 L694,162.9 L696.6,168 L699.2,173.3 L701.9,179 L704.7,184.7 L707.6,190.2 L710.6,195.6 L713.7,201.1 L716.9,206.2 L720,210.9 L723.1,214.8 L726.2,218.2 L729.4,221.4 L732.5,224.7 L735.6,228.2 L738.7,231.9 L741.8,235.3 L744.9,238.5 L748,241.2 L751.1,243.6 L754.2,245.9 L757.3,248.2 L760.6,250.7 L764,253.3 L767.2,255.7 L770,257.8 L771.8,259.2 L773,260.2 L774.4,261.2 L777,262.8 L781.2,265.3 L786.5,268.4 L792.2,271.5 L797.7,274.2 L802.9,276.3 L808.1,278.2 L813.2,279.8 L818.4,281.5 L823.7,283.2 L829.1,284.9 L834.3,286.5 L839.1,288 L843.4,289.5 L847.3,290.9 L851,292.3 L854.8,293.4 L858.6,294.2 L862.3,294.7 L866,295.3 L869.7,296.3 L873.4,298.1 L877.1,300.4 L880.8,302.6 L884.5,304 L888.3,304 L892.1,303 L895.8,302.1 L899.3,302.3 L902.5,304.2 L905.4,307.3 L908.3,310.3 L911.2,312 L914.2,311.7 L917.1,310.2 L920,308.6 L923,308.2 L926,309.3 L929.1,311.3 L932.1,314 L934.9,317.1 L937.4,321.1 L939.6,325.8 L941.8,330.7 L943.8,334.9 L945.8,338.3 L947.7,341.1 L949.5,343.9 L951.2,346.8 L952.8,350 L954.4,353.4 L955.8,356.8 L957.1,360 L958.3,363.4 L959.5,366.8 L960.5,369.9 L961.2,372" stroke="#ff00ff" stroke-width="3.0"/>
<path d="M682.9,138.5 L681.4,141.3 L684.1,141.4 L682.8,143.5 L685.3,144.1 L683.8,146.7 L686.5,146.8 L685.8,148.5 L687.6,149 L686.9,151.1 L689,151.7 L688.3,153.8 L690.3,154.6 L689.8,156.8 L692.1,157.6 L691,159.7 L693.3,160.1 L692.8,161.9 L694.6,162.6 L693.7,164.7 L696.1,165 L694.8,167.3 L697.8,167.4 L696.4,169.8 L698.4,170.4 L697.4,172.6 L700.4,172.8 L699.1,175.1 L702.2,175.4 L700.2,178.1 L703.9,178 L700.8,181.3 L705.1,181 L702,184.2 L705.7,184.2 L704.1,186.8 L707.8,186.6 L705.1,189.7 L708.8,189.6 L707.6,192 L710.6,192.1 L709.1,194.7 L712.2,194.7 L710.8,197.3 L713.4,197.7 L711.7,200.4 L714.5,200.6 L713.2,203.1 L716.6,202.9 L715,205.6 L718.6,205.1 L715.9,208.6 L720.2,207.4 L718.3,210.3 L720.6,210.4 L720,213 L722.8,213 L721.8,216.1 L725,215.2 L724.5,217.7 L727.1,217.4 L726.3,220.2 L729.7,219 L728.3,222.4 L731.3,221.7 L730.2,224.8 L733.1,224.2 L732.8,226.6 L735.9,225.9 L734.2,229.5 L737.3,228.9 L737.1,231.2 L739.8,230.9 L738.4,234.2 L741.3,233.7 L740.8,236.3 L743.6,235.6 L743.3,238 L745.5,237.8 L745.2,240.3 L747.9,239.2 L747.5,241.9 L750.1,240.7 L748.8,244.5 L752.1,242.2 L751.6,245 L754.2,243.7 L753.2,247.3 L755.6,246.1 L755.5,248.5 L758.4,246.8 L757,250.8 L760.8,248.1 L759.6,252 L762.7,250.3 L761.5,254.2 L764.6,252.5 L764.2,255.3 L766.6,254.3 L766.1,257.3 L769.7,255.4 L769.4,258.6 L771.5,257.7 L770.9,260.4 L774.1,258.6 L773.9,262 L776.3,261 L776.2,264.1 L779,262.7 L778.7,266.3 L782.1,263.7 L781.4,268 L784.7,265.3 L784.3,269.1 L787,267.3 L787.2,270.5 L790,268.7 L790.1,272 L792.6,270.8 L792.7,274 L795.4,272 L795.7,274.8 L798.5,272.2 L798.4,276.1 L801.1,273.3 L801.2,276.8 L803.4,275 L803.7,278 L805.9,276.1 L806.3,278.9 L808.5,276.8 L808.7,280.5 L811.3,276.8 L811.7,280.2 L813.8,278.1 L814,281.7 L816.2,279.4 L816.9,281.8 L818.8,280.3 L819.4,283.1 L821.4,281.1 L821.9,284.3 L824.1,282 L824.7,284.7 L826.7,283 L827.1,286.6 L829.5,283.6 L829.7,287.4 L832,284.8 L832.5,287.8 L834.8,285 L835.3,288.7 L838,286 L838.4,290 L841.1,286.9 L841.7,289.7 L844,287.8 L844.1,291.5 L846.4,289.4 L846.7,292.7 L849.2,289.4 L849.4,292.9 L851.3,291.4 L852,293.7 L854,291.4 L854.5,294.8 L856.2,292.9 L857,295.3 L858.8,292.6 L859.6,296 L861.2,293.3 L862,296.6 L864.4,293.2 L865.7,296.4 L867.6,294.4 L867.9,298.1 L870.2,295.4 L870.3,298.2 L872.7,296.4 L872.5,299.5 L875.7,297.2 L875.4,300.4 L877.6,299.6 L877.9,301.8 L880,301.1 L880.3,304.1 L882.6,301.7 L882.5,305.6 L884.5,302.6 L885.8,305.5 L887,303.2 L888.5,305 L889.3,302.5 L891.1,304.4 L891.6,301.1 L893.6,304.1 L894.4,301.6 L895.7,303.7 L897.6,301.3 L898.8,303.1 L901.8,301.8 L901.9,304.8 L904.8,303.9 L903.5,307.2 L906,306.7 L905.1,309.5 L909,307.7 L907.3,311.9 L910.8,309.4 L911.4,314.2 L912.6,310.7 L914.8,313 L914.7,309.3 L917.7,311.3 L917.5,307.4 L920.2,309.9 L921.4,307.7 L922.7,309 L925,307.5 L925.7,309.9 L928.5,308.9 L927.6,313 L931.6,310.5 L929.6,314.8 L933,313.2 L932.3,315.6 L934.6,315.5 L933,318.3 L936.3,318 L935.9,320.2 L939,320.3 L935.9,323.2 L939.9,322.8 L938.4,325 L940.3,325.5 L938.3,327.8 L942.3,327.5 L940.1,329.9 L943.8,329.7 L941.4,332.6 L944,333.1 L941.9,336 L945.1,335.6 L944,337.8 L946.6,337.7 L945.3,340.6 L948.9,340.3 L947.7,343.1 L951,343 L949.6,345.8 L953.2,345.8 L950.3,349.3 L953.8,349.6 L952.1,352.4 L955.4,353 L953.6,355.7 L956.9,356.3 L955.5,358.8 L958.5,359.5 L957,362 L960.5,362.6 L957.1,365.7 L960.5,366.5 L958.4,368.9 L961.4,369.6 L961.2,372" stroke="#ff00ff" stroke-width="1.5"/>
<path d="M663.3,371.5 L663.8,369.5 L664.5,366.5 L665.2,363.2 L666,360 L666.7,356.7 L667.4,353.3 L668.2,350.1 L668.9,347.8 L669.5,346.7 L670,346.6 L670.7,346.7 L672,346.5 L673.8,345.9 L675.9,345.3 L678.7,344.5 L682.8,343.6 L688.7,342.5 L695.9,341.3 L703.6,340 L710.6,339 L716.8,338.2 L722.6,337.6 L728.2,337 L733.8,336.5 L738.9,336 L743.7,335.5 L748.8,335 L755,334.4 L762.4,333.6 L770.7,332.8 L779.9,331.9 L790,330.9 L801.8,329.8 L815,328.7 L828.2,327.6 L840,326.7 L848.2,326.1 L854,325.7 L861.6,325.3 L874.9,324.7 L898.6,323.8 L929.3,322.6 L959,321.5 L979.4,320.8 L979.4,323.8" stroke="#ff00ff" stroke-width="2.0"/>
</g>
<text x="157" y="827.7" font-size="17" text-anchor="end" fill="#000" >100</text>
<text x="157" y="768.2" font-size="17" text-anchor="end" fill="#000" >150</text>
<text x="157" y="708.8" font-size="17" text-anchor="end" fill="#000" >200</text>
<text x="157" y="649.3" font-size="17" text-anchor="end" fill="#000" >250</text>
<text x="157" y="589.9" font-size="17" text-anchor="end" fill="#000" >300</text>
<text x="157" y="530.4" font-size="17" text-anchor="end" fill="#000" >350</text>
<text x="157" y="471" font-size="17" text-anchor="end" fill="#000" >400</text>
<text x="163.7" y="842.4" font-size="17" text-anchor="middle" fill="#000" >0</text>
<text x="223.5" y="842.4" font-size="17" text-anchor="middle" fill="#000" >5</text>
<text x="283.3" y="842.4" font-size="17" text-anchor="middle" fill="#000" >10</text>
<text x="343.1" y="842.4" font-size="17" text-anchor="middle" fill="#000" >15</text>
<text x="402.8" y="842.4" font-size="17" text-anchor="middle" fill="#000" >20</text>
<text x="462.6" y="842.4" font-size="17" text-anchor="middle" fill="#000" >25</text>
<text x="522.4" y="842.4" font-size="17" text-anchor="middle" fill="#000" >30</text>
<text x="582.2" y="842.4" font-size="17" text-anchor="middle" fill="#000" >35</text>
<text x="642" y="842.4" font-size="17" text-anchor="middle" fill="#000" >40</text>
<text x="403" y="863" font-size="19" text-anchor="middle" fill="#000" >Elongation (%)</text>
<text transform="translate(123,642.3) rotate(-90)" font-size="19" text-anchor="middle">Ultimate tensile strength (MPa)</text>
<text x="80.6" y="480" font-size="36.3" text-anchor="start" fill="#000" >(c)</text>
<g fill-opacity="0.15">
<ellipse cx="266.3" cy="586.6" rx="117.3" ry="64.9" transform="rotate(-46.3 266.3 586.6)" fill="#4472c4"/>
<ellipse cx="410.4" cy="624.3" rx="106.2" ry="62.1" transform="rotate(-5.3 410.4 624.3)" fill="#00b050"/>
<ellipse cx="448" cy="699" rx="146.5" ry="97.5" transform="rotate(-33.3 448 699)" fill="#ed7d31"/>
<ellipse cx="419.5" cy="599" rx="226.5" ry="59.3" transform="rotate(31.7 419.5 599)" fill="#ff00ff"/>
</g>
<path d="M223.5,465.2 V821.9 M283.3,465.2 V821.9 M343.1,465.2 V821.9 M402.8,465.2 V821.9 M462.6,465.2 V821.9 M522.4,465.2 V821.9 M582.2,465.2 V821.9 M163.7,762.4 H642 M163.7,703 H642 M163.7,643.5 H642 M163.7,584.1 H642 M163.7,524.6 H642 " stroke="#d8d8d8" stroke-opacity="0.6" stroke-width="1" fill="none"/>
<rect x="163.7" y="465.2" width="478.3" height="356.7" fill="none" stroke="#2b2b2b" stroke-width="1.8"/>
<path d="M163.7,792.2 h3.2 M163.7,762.4 h6 M163.7,732.7 h3.2 M163.7,703 h6 M163.7,673.3 h3.2 M163.7,643.5 h6 M163.7,613.8 h3.2 M163.7,584.1 h6 M163.7,554.4 h3.2 M163.7,524.6 h6 M163.7,494.9 h3.2 M193.6,821.9 v-3.2 M223.5,821.9 v-6 M253.4,821.9 v-3.2 M283.3,821.9 v-6 M313.2,821.9 v-3.2 M343.1,821.9 v-6 M373,821.9 v-3.2 M402.8,821.9 v-6 M432.7,821.9 v-3.2 M462.6,821.9 v-6 M492.5,821.9 v-3.2 M522.4,821.9 v-6 M552.3,821.9 v-3.2 M582.2,821.9 v-6 M612.1,821.9 v-3.2 " stroke="#2b2b2b" stroke-width="1.7" fill="none"/>
<path d="M221.4,563.7 L231.5,581.3 L211.3,581.3 Z" fill="#4472c4"/>
<path d="M265.5,569.7 L275.6,587.3 L255.4,587.3 Z" fill="#4472c4"/>
<path d="M334.8,552.7 L344.9,570.3 L324.7,570.3 Z" fill="#4472c4"/>
<path d="M211.5,595.4 L221.6,613 L201.4,613 Z" fill="#4472c4"/>
<path d="M219,621.6 L229.1,639.2 L208.9,639.2 Z" fill="#4472c4"/>
<rect x="417.3" y="600" width="18.4" height="18.4" fill="#ed7d31"/>
<rect x="370.5" y="638.7" width="18.4" height="18.4" fill="#ed7d31"/>
<rect x="393.7" y="672.5" width="18.4" height="18.4" fill="#ed7d31"/>
<rect x="343.1" y="695.6" width="18.4" height="18.4" fill="#ed7d31"/>
<rect x="453.7" y="691.4" width="18.4" height="18.4" fill="#ed7d31"/>
<rect x="324.7" y="752.3" width="18.4" height="18.4" fill="#ed7d31"/>
<rect x="395.9" y="755.9" width="18.4" height="18.4" fill="#ed7d31"/>
<rect x="417.3" y="770.4" width="18.4" height="18.4" fill="#ed7d31"/>
<rect x="512.3" y="617.9" width="18.4" height="18.4" fill="#ed7d31"/>
<path d="M344.5,592.9 L354.2,602.6 L344.5,612.4 L334.8,602.6 Z" fill="#00b050"/>
<path d="M335,612.5 L344.8,622.2 L335,632 L325.2,622.2 Z" fill="#00b050"/>
<path d="M343.4,637.9 L353.1,647.6 L343.4,657.4 L333.6,647.6 Z" fill="#00b050"/>
<path d="M403.1,575.2 L412.9,585 L403.1,594.8 L393.4,585 Z" fill="#00b050"/>
<path d="M456.3,575.2 L466.1,585 L456.3,594.8 L446.6,585 Z" fill="#00b050"/>
<path d="M423.5,627.4 L433.2,637.1 L423.5,646.9 L413.8,637.1 Z" fill="#00b050"/>
<path d="M488.6,598 L498.4,607.8 L488.6,617.5 L478.9,607.8 Z" fill="#00b050"/>
<path d="M491,635.4 L500.8,645.1 L491,654.9 L481.2,645.1 Z" fill="#00b050"/>
<path d="M281.9,483.3 L292.6,491 L288.5,503.5 L275.3,503.5 L271.2,491 Z" fill="#ff00ff"/>
<path d="M310.1,508.8 L320.8,516.5 L316.7,529 L303.5,529 L299.4,516.5 Z" fill="#ff00ff"/>
<path d="M370.9,527.3 L381.6,535 L377.5,547.5 L364.3,547.5 L360.2,535 Z" fill="#ff00ff"/>
<path d="M365.7,582.3 L376.4,590 L372.3,602.5 L359.1,602.5 L355,590 Z" fill="#ff00ff"/>
<path d="M421.3,579.9 L432,587.6 L427.9,600.1 L414.7,600.1 L410.6,587.6 Z" fill="#ff00ff"/>
<path d="M436,607.5 L446.7,615.2 L442.6,627.7 L429.4,627.7 L425.3,615.2 Z" fill="#ff00ff"/>
<path d="M414,648.5 L424.7,656.2 L420.6,668.7 L407.4,668.7 L403.3,656.2 Z" fill="#ff00ff"/>
<path d="M538.9,628.7 L549.6,636.4 L545.5,648.9 L532.3,648.9 L528.2,636.4 Z" fill="#ff00ff"/>
<path d="M534.2,652.5 L544.9,660.2 L540.8,672.7 L527.6,672.7 L523.5,660.2 Z" fill="#ff00ff"/>
<path d="M402.6,625.8 L405.5,633.5 L413.7,633.9 L407.3,639 L409.5,647 L402.6,642.4 L395.7,647 L397.9,639 L391.5,633.9 L399.7,633.5 Z" fill="#000"/>
<path d="M521.4,511 L525.3,521.6 L536.6,522.1 L527.8,529.1 L530.8,540 L521.4,533.7 L512,540 L515,529.1 L506.2,522.1 L517.5,521.6 Z" fill="#ff0000"/>
<path d="M588.5,563.1 L591.4,570.9 L599.8,571.3 L593.2,576.5 L595.5,584.5 L588.5,579.9 L581.5,584.5 L583.8,576.5 L577.2,571.3 L585.6,570.9 Z" fill="#ff0000"/>
<circle cx="210" cy="771.5" r="10" fill="#000"/>
<text x="175" y="806.9" font-size="25.5" text-anchor="start" fill="#000" >Pure Mg</text>
<text x="490" y="500.9" font-size="29" text-anchor="start" fill="#ff0000" >This work</text>
<circle cx="668.6" cy="495.6" r="10.2" fill="#000"/>
<text x="691.6" y="502.6" font-size="25.6" text-anchor="start" fill="#000" >Pure Mg</text>
<path d="M668.6,526.9 L679,545 L658.2,545 Z" fill="#4472c4"/>
<text x="691.6" y="543.6" font-size="25.6" text-anchor="start" fill="#4472c4" >Mg-RE based alloys</text>
<path d="M668.6,566 L678.9,576.3 L668.6,586.6 L658.3,576.3 Z" fill="#00b050"/>
<text x="691.6" y="584.7" font-size="25.6" text-anchor="start" fill="#00b050" >Mg-Al/Zn based alloys</text>
<rect x="659.3" y="607.4" width="18.6" height="18.6" fill="#ed7d31"/>
<text x="691.6" y="625.8" font-size="25.6" text-anchor="start" fill="#ed7d31" >Mg-Li based alloys</text>
<path d="M668.6,646.3 L671.5,654.1 L679.8,654.5 L673.3,659.7 L675.5,667.7 L668.6,663.1 L661.7,667.7 L663.9,659.7 L657.4,654.5 L665.7,654.1 Z" fill="#000"/>
<text x="691.6" y="666.8" font-size="25.6" text-anchor="start" fill="#000" >US (this work)</text>
<path d="M668.6,687.2 L679.3,694.9 L675.2,707.5 L662,707.5 L657.9,694.9 Z" fill="#ff00ff"/>
<text x="691.6" y="707.9" font-size="25.6" text-anchor="start" fill="#ff00ff" >Heterogeneous Mg alloys</text>
<path d="M668.6,727 L671.5,734.8 L679.8,735.2 L673.3,740.4 L675.5,748.4 L668.6,743.8 L661.7,748.4 L663.9,740.4 L657.4,735.2 L665.7,734.8 Z" fill="#ff0000"/>
<text x="691.6" y="748.9" font-size="25.6" text-anchor="start" fill="#ff0000" >HS1 (this work)</text>
<path d="M668.6,763.7 L672.5,774.2 L683.7,774.7 L674.9,781.6 L677.9,792.4 L668.6,786.2 L659.3,792.4 L662.3,781.6 L653.5,774.7 L664.7,774.2 Z" fill="#ff0000"/>
<text x="691.6" y="790" font-size="25.6" text-anchor="start" fill="#ff0000" >HS2 (this work)</text>
</svg>
</body></html>
